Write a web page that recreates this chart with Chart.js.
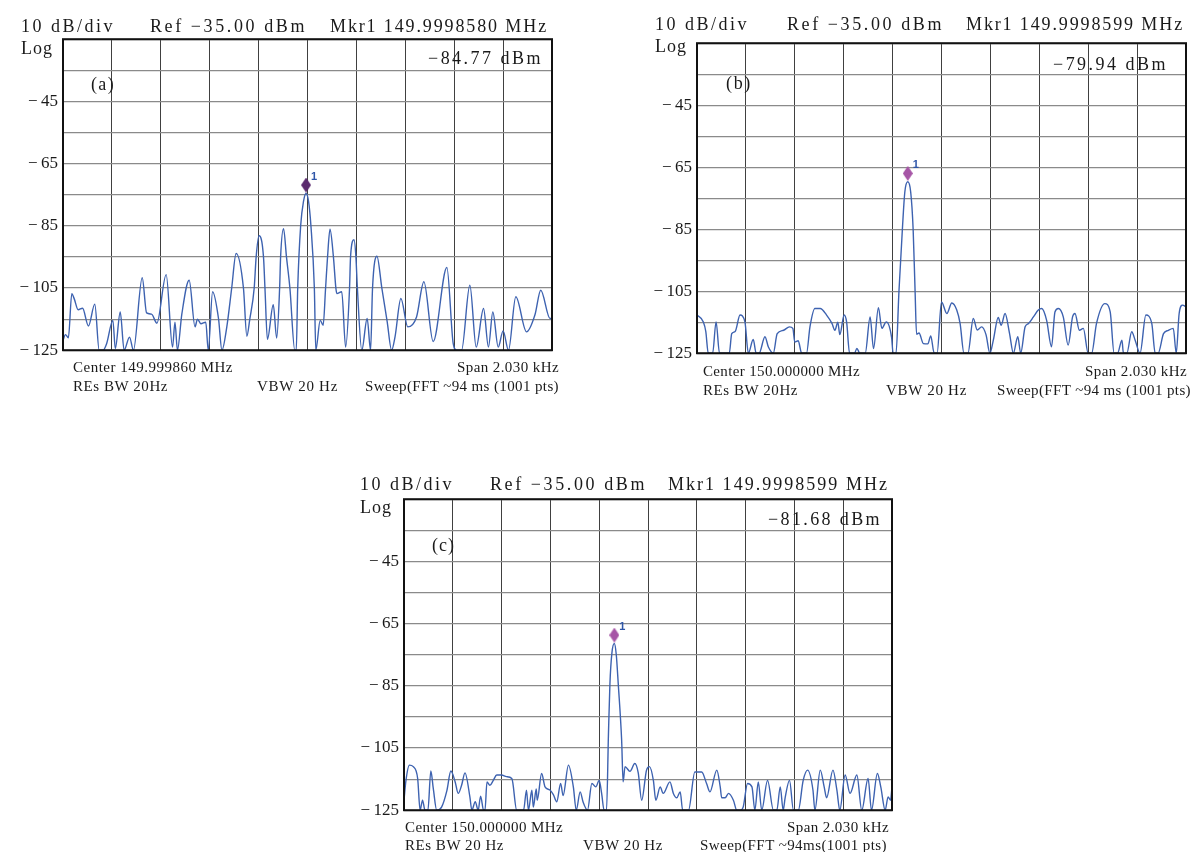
<!DOCTYPE html>
<html>
<head>
<meta charset="utf-8">
<script src="https://cdn.jsdelivr.net/npm/chart.js@4"></script>
<style>
body { margin: 0; background: #fff; width: 1190px; height: 852px; position: relative; overflow: hidden; font-family: "Liberation Serif", serif; color: #1a1a1a; }
canvas { position: absolute; }
.t { position: absolute; white-space: nowrap; line-height: 1; }
</style>
</head>
<body>
<script>
// x = horizontal division (0..10, span 2.030 kHz), y = dBm
const traceA = [
  [0,-121.8],[0.05,-120],[0.11,-121],[0.18,-106.8],[0.23,-108.5],[0.31,-112],[0.40,-111.5],[0.52,-117.2],[0.65,-110.2],
  [0.74,-125],[0.82,-125],[0.89,-123],[1.02,-115.4],[1.07,-124.5],[1.17,-112.7],[1.25,-125],[1.36,-120.8],[1.44,-125],
  [1.62,-101.7],[1.71,-113],[1.81,-113.4],[1.92,-116.3],[2.11,-100.7],[2.24,-124],[2.29,-116],[2.34,-125],[2.43,-113.4],
  [2.58,-102.5],[2.70,-117.5],[2.75,-115],[2.82,-116.5],[2.92,-116],[2.97,-125],[3.06,-106.2],[3.18,-114.8],[3.25,-125],
  [3.35,-117.5],[3.45,-105],[3.54,-93.9],[3.69,-105],[3.76,-120.5],[3.82,-115],[3.91,-105],[3.95,-95],[4.01,-88.2],
  [4.10,-95],[4.13,-105],[4.18,-121.5],[4.30,-110.4],[4.37,-121.1],[4.43,-105],[4.45,-95],[4.51,-85.9],[4.57,-95],
  [4.64,-105],[4.74,-125],
  [4.77,-125],[4.80,-105],[4.86,-85],[4.92,-77],[4.97,-74.6],[5.02,-77],[5.07,-85],[5.14,-105],[5.17,-125],
  [5.26,-115.4],[5.32,-117],[5.37,-105],[5.41,-95],[5.46,-86.1],[5.53,-95],[5.58,-105],[5.60,-106.8],[5.70,-106.2],
  [5.78,-124],[5.86,-105],[5.88,-95],[5.95,-89.5],[5.99,-95],[6.02,-105],[6.11,-125],[6.22,-114.8],[6.29,-125],
  [6.33,-105],[6.42,-94.8],[6.52,-105],
  [6.63,-115.9],[6.72,-125],[6.79,-120.7],[6.91,-108.4],[7.05,-117.5],[7.23,-114.3],[7.38,-103],[7.57,-122.2],[7.85,-98.4],
  [7.98,-122.9],[8.05,-125],[8.15,-125],[8.32,-104.1],[8.45,-124],[8.60,-111.6],[8.70,-124],[8.79,-112.7],[8.90,-124],
  [9.00,-118.8],[9.11,-125],[9.26,-107.8],[9.48,-119.1],[9.65,-113.7],[9.77,-105.7],[9.96,-114.8],[10,-114.8]
];
const traceB = [
  [0,-112.7],[0.13,-114.9],[0.18,-118],[0.23,-125],[0.32,-125],[0.39,-114.9],[0.46,-125],[0.66,-125],[0.71,-118.7],[0.78,-118],
  [0.88,-112.7],[0.98,-114.9],[1.05,-125],[1.15,-120.6],[1.21,-125],[1.27,-125],[1.39,-119.7],[1.46,-123],[1.56,-125],
  [1.64,-118.7],[1.77,-117.6],[1.89,-116.5],[1.96,-117],[2.00,-121.4],[2.07,-121],[2.14,-125],[2.24,-125],[2.31,-116.5],
  [2.41,-110.6],[2.52,-110.6],[2.65,-112.7],[2.76,-115.4],[2.82,-117.6],[2.88,-115],[2.92,-119],[3.01,-112.7],[3.06,-115],
  [3.12,-125],[3.22,-125],[3.27,-123.5],[3.33,-125],[3.44,-125],[3.54,-113.3],[3.61,-123.5],[3.71,-110.3],[3.78,-117],
  [3.87,-114.9],[3.98,-120],[4.01,-125],[4.07,-125],[4.13,-105],[4.20,-85],[4.25,-73],[4.31,-69.7],[4.37,-73],[4.42,-85],
  [4.46,-105],[4.49,-118.9],[4.54,-118.5],[4.63,-121.9],[4.72,-122],[4.78,-119.4],[4.85,-125],[4.91,-125],[5.00,-108.5],
  [5.11,-112.2],[5.21,-108.8],[5.31,-111],[5.38,-115.4],[5.46,-125],[5.54,-125],[5.65,-113.8],[5.73,-117.5],[5.82,-116.5],
  [5.91,-119],[5.99,-125],[6.06,-120.8],[6.16,-113.5],[6.22,-116],[6.30,-112.2],[6.39,-118.5],[6.47,-125],[6.56,-119.7],
  [6.62,-125],[6.71,-116.5],[6.78,-115.4],[6.88,-113.3],[6.98,-111.1],[7.05,-110.6],[7.15,-114.4],[7.25,-122.9],[7.32,-111.7],
  [7.39,-110.6],[7.49,-113.3],[7.59,-122.4],[7.68,-113.3],[7.73,-112.2],[7.82,-117.6],[7.90,-117],[8.00,-125],[8.07,-125],
  [8.17,-115.4],[8.34,-109],[8.45,-111.7],[8.53,-125],[8.60,-125],[8.69,-120.8],[8.72,-125],[8.79,-125],[8.89,-118.1],
  [8.96,-120.8],[9.06,-125],[9.18,-112.7],[9.30,-115.4],[9.37,-125],[9.43,-125],[9.54,-118.7],[9.64,-117.6],[9.74,-117],
  [9.80,-125],[9.86,-112.2],[9.93,-109.5],[10,-110]
];
const traceC = [
  [0,-121.8],[0.04,-115.4],[0.11,-110.5],[0.19,-111],[0.28,-114.8],[0.33,-125],[0.38,-121.8],[0.43,-125],[0.49,-125],
  [0.55,-112.4],[0.60,-118],[0.67,-125],[0.77,-124],[0.88,-118.6],[0.96,-112.4],[1.05,-116],[1.11,-119.6],[1.18,-117],
  [1.25,-113],[1.35,-120.7],[1.39,-125],[1.46,-122.3],[1.52,-125],[1.57,-120.5],[1.63,-125],[1.66,-125],[1.70,-115.9],
  [1.76,-117],[1.83,-115.4],[1.90,-113.7],[2.00,-113.7],[2.10,-114.2],[2.21,-114.8],[2.31,-125],[2.45,-125],[2.51,-118.6],
  [2.55,-125],[2.62,-118.6],[2.65,-124],[2.71,-118.2],[2.73,-121.8],[2.82,-113.2],[2.89,-117.5],[2.99,-118.5],[3.06,-120],
  [3.13,-122.3],[3.21,-116.4],[3.26,-120.3],[3.37,-110.5],[3.47,-117.5],[3.53,-125],[3.61,-119.1],[3.67,-122.4],[3.76,-125],
  [3.85,-116.4],[3.93,-117.5],[4.00,-115.4],[4.05,-119.6],[4.10,-125],[4.15,-125],[4.19,-100.3],[4.22,-84.3],[4.26,-74.5],
  [4.31,-71.4],[4.35,-75],[4.39,-84.3],[4.46,-102.5],[4.49,-115.9],[4.53,-111],[4.63,-112.5],[4.73,-110],[4.80,-113],
  [4.87,-121.8],[4.97,-112.1],[5.03,-111],[5.11,-115.4],[5.16,-121.8],[5.25,-117.5],[5.31,-119.6],[5.45,-115.9],[5.52,-119.6],
  [5.59,-121],[5.66,-119.1],[5.71,-125],[5.83,-125],[5.96,-112.7],[6.10,-112.7],[6.20,-116.4],[6.27,-119.1],[6.41,-112.1],
  [6.48,-117.5],[6.51,-121],[6.58,-121],[6.65,-119.6],[6.75,-121.8],[6.82,-125],[6.89,-125],[6.95,-124],[7.04,-116.4],
  [7.13,-117.5],[7.19,-125],[7.26,-115.9],[7.33,-125],[7.45,-115.4],[7.57,-125],[7.64,-125],[7.71,-117.5],[7.77,-125],
  [7.81,-121],[7.90,-115.4],[7.98,-125],[8.08,-125],[8.18,-115.4],[8.27,-112.1],[8.38,-118.5],[8.42,-125],[8.53,-112.1],
  [8.61,-117.5],[8.66,-121],[8.79,-112.1],[8.87,-118.5],[8.93,-125],[9.04,-113.7],[9.14,-119.6],[9.28,-113.7],[9.38,-125],
  [9.51,-114.8],[9.58,-125],[9.70,-113.2],[9.77,-117.5],[9.86,-125],[9.92,-120.7],[9.97,-121.8],[10,-117.5]
];
const markerA = [4.97, -71.9];
const markerB = [4.31, -67.0];
const markerC = [4.31, -68.7];
const yTickLabels = [-45, -65, -85, -105, -125];

const traceColor = "#3d62b0";

function addText(str, x, y, size, w, align) {
  const d = document.createElement("div");
  d.className = "t";
  d.textContent = str;
  d.style.fontSize = size + "px";
  document.body.appendChild(d);
  if (w) {
    const nat = d.getBoundingClientRect().width;
    d.style.letterSpacing = ((w - nat) / str.length) + "px";
  }
  const r = d.getBoundingClientRect();
  d.style.left = (align === "right" ? x - r.width : x) + "px";
  d.style.top = (y - r.height / 2) + "px";
}

function diamond(color) {
  const c = document.createElement("canvas");
  c.width = 10; c.height = 15;
  const g = c.getContext("2d");
  g.fillStyle = color;
  g.beginPath();
  g.moveTo(5, 0); g.lineTo(10, 7.5); g.lineTo(5, 15); g.lineTo(0, 7.5);
  g.closePath();
  g.fill();
  return c;
}

// frame round the plot + the "1" next to the marker
const framePlugin = {
  id: "frame",
  afterDatasetsDraw(chart) {
    const a = chart.chartArea, ctx = chart.ctx;
    ctx.save();
    ctx.strokeStyle = "#111";
    ctx.lineWidth = 2;
    ctx.strokeRect(a.left, a.top, a.right - a.left, a.bottom - a.top);
    const p = chart.getDatasetMeta(1).data[0];
    ctx.fillStyle = "#2f56a8";
    ctx.font = "bold 11px 'Liberation Sans', sans-serif";
    ctx.fillText("1", p.x + 5, p.y - 5);
    ctx.restore();
  }
};

function makePanel(box, trace, marker, markerColor) {
  const cv = document.createElement("canvas");
  cv.width = 62 + box.w + 4;
  cv.height = box.h + 20;
  document.body.appendChild(cv);
  const chart = new Chart(cv, {
    type: "line",
    data: {
      datasets: [
        { data: trace.map(p => ({ x: p[0], y: p[1] })), borderColor: traceColor, borderWidth: 1.4,
          pointRadius: 0, cubicInterpolationMode: "monotone", order: 2 },
        { data: [{ x: marker[0], y: marker[1] }], showLine: false, pointStyle: diamond(markerColor),
          pointRadius: 7, order: 1 }
      ]
    },
    options: {
      responsive: false,
      maintainAspectRatio: false,
      animation: false,
      layout: { padding: { left: 2, top: 10, right: 4, bottom: 10 } },
      plugins: { legend: { display: false }, tooltip: { enabled: false } },
      scales: {
        x: {
          type: "linear", min: 0, max: 10,
          ticks: { stepSize: 1, display: false },
          grid: { color: "#404040", lineWidth: 1, drawTicks: false },
          border: { display: false },
          afterFit: s => { s.height = 0; }
        },
        y: {
          min: -125, max: -25,
          ticks: {
            stepSize: 10, autoSkip: false, padding: 5, color: "#1a1a1a",
            font: { family: "Liberation Serif", size: 17 },
            callback: v => yTickLabels.includes(v) ? "\u2212\u2009" + Math.abs(v) : ""
          },
          grid: { color: "#8a8a8a", lineWidth: 1.2, drawTicks: false },
          border: { display: false },
          afterFit: s => { s.width = 60; }
        }
      }
    },
    plugins: [framePlugin]
  });
  // make the plot area land exactly on the box
  let a = chart.chartArea;
  const w = cv.width + box.w - (a.right - a.left);
  const h = cv.height + box.h - (a.bottom - a.top);
  chart.resize(w, h);
  a = chart.chartArea;
  cv.style.left = (box.left - a.left) + "px";
  cv.style.top = (box.top - a.top) + "px";
}

makePanel({ left: 63, top: 39, w: 489, h: 311 }, traceA, markerA, "#5b2a6e");
makePanel({ left: 697, top: 43, w: 489, h: 310 }, traceB, markerB, "#a655a6");
makePanel({ left: 404, top: 499, w: 488, h: 311 }, traceC, markerC, "#a655a6");

// panel (a) texts
addText("10 dB/div", 21, 26, 18, 94);
addText("Ref \u221235.00 dBm", 150, 26, 18, 157);
addText("Mkr1 149.9998580 MHz", 330, 26, 18, 218);
addText("Log", 21, 48, 18, 32);
addText("\u221284.77 dBm", 428, 58, 18, 115);
addText("(a)", 91, 84, 18, 24);
addText("Center 149.999860 MHz", 73, 367, 15, 160);
addText("REs BW 20Hz", 73, 386, 15, 95);
addText("VBW 20 Hz", 257, 386, 15, 81);
addText("Span 2.030 kHz", 559, 367, 15, 102, "right");
addText("Sweep(FFT ~94 ms (1001 pts)", 559, 386, 15, 194, "right");

// panel (b) texts
addText("10 dB/div", 655, 24, 18, 94);
addText("Ref \u221235.00 dBm", 787, 24, 18, 157);
addText("Mkr1 149.9998599 MHz", 966, 24, 18, 218);
addText("Log", 655, 46, 18, 32);
addText("\u221279.94 dBm", 1053, 64, 18, 115);
addText("(b)", 726, 83, 18, 26);
addText("Center 150.000000 MHz", 703, 371, 15, 157);
addText("REs BW 20Hz", 703, 390, 15, 95);
addText("VBW 20 Hz", 886, 390, 15, 81);
addText("Span 2.030 kHz", 1187, 371, 15, 102, "right");
addText("Sweep(FFT ~94 ms (1001 pts)", 997, 390, 15, 194);

// panel (c) texts
addText("10 dB/div", 360, 484, 18, 94);
addText("Ref \u221235.00 dBm", 490, 484, 18, 157);
addText("Mkr1 149.9998599 MHz", 668, 484, 18, 221);
addText("Log", 360, 507, 18, 32);
addText("\u221281.68 dBm", 768, 519, 18, 114);
addText("(c)", 432, 545, 18, 23);
addText("Center 150.000000 MHz", 405, 827, 15, 158);
addText("REs BW 20 Hz", 405, 845, 15, 99);
addText("VBW 20 Hz", 583, 845, 15, 80);
addText("Span 2.030 kHz", 889, 827, 15, 102, "right");
addText("Sweep(FFT ~94ms(1001 pts)", 700, 845, 15, 187);
</script>
</body>
</html>
